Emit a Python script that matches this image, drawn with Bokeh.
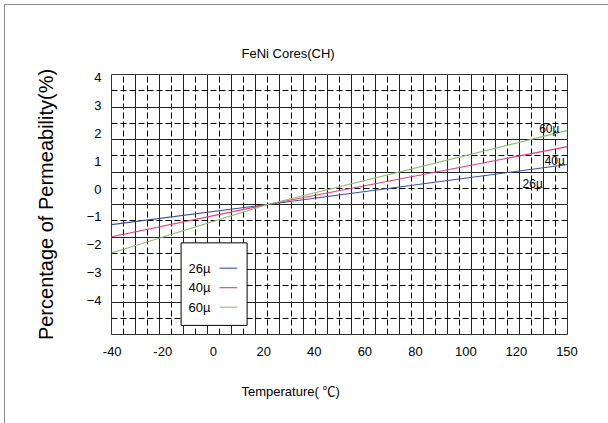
from bokeh.plotting import figure
from bokeh.models import Range1d, LinearAxis, FixedTicker, Grid, Title, BoxAnnotation
from bokeh.core.properties import value
from bokeh.embed import file_html
from bokeh.resources import INLINE

# Permeability change vs. temperature for FeNi (CH) cores, referenced to 25 °C
temperature = [-40, 25, 150]
perm_26u = [-0.62, 0.0, 1.23]
perm_40u = [-0.99, 0.0, 1.78]
perm_60u = [-1.49, 0.0, 2.28]
series = [("26µ", perm_26u, "#3b4ea6"),
          ("40µ", perm_40u, "#e63a78"),
          ("60µ", perm_60u, "#8fc06e")]

x_tick_values = [-40, -20, 0, 20, 40, 60, 80, 100, 120, 140]
x_tick_text = ["-40", "-20", "0", "20", "40", "60", "80", "100", "120", "150"]
y_tick_values = [4, 3, 2, 1, 0, -1, -2, -3, -4]

FONT = "Liberation Sans, Noto Sans CJK SC"

p = figure(frame_width=456, frame_height=260,
           min_border_left=106, min_border_right=41,
           min_border_top=69, min_border_bottom=89,
           x_range=Range1d(-40, 150), y_range=Range1d(-4, 4),
           x_axis_location=None, y_axis_location=None,
           output_backend="svg", toolbar_location=None,
           title="FeNi Cores(CH)")
p.margin = (4, 0, 0, 4)
p.styles = {"border-left": "1px solid #8a8a8a", "border-top": "1px solid #8a8a8a"}
p.outline_line_color = "#333333"
p.background_fill_color = "white"
p.border_fill_color = "white"

# grid: solid every 10 °C / 1 %, dashed in between
def add_grid(dim, ticks, dash):
    g = Grid(dimension=dim, ticker=FixedTicker(ticks=ticks),
             grid_line_color="#222222" if dash == "solid" else "#000000",
             grid_line_width=1, grid_line_dash=dash)
    p.add_layout(g)

add_grid(0, list(range(-40, 151, 10)), "solid")
add_grid(0, list(range(-35, 150, 10)), "6 3")
add_grid(1, list(range(-4, 5)), "solid")
add_grid(1, [v + 0.5 for v in range(-4, 4)], "6 3")

# tick-label axes on their own label scales
p.extra_x_ranges = {"xlbl": Range1d(-40.28, 140.2)}
p.extra_y_ranges = {"ylbl": Range1d(-5.22, 4.108)}

xaxis = LinearAxis(x_range_name="xlbl", ticker=FixedTicker(ticks=x_tick_values),
                   major_label_overrides={v: t for v, t in zip(x_tick_values, x_tick_text)})
yaxis = LinearAxis(y_range_name="ylbl", ticker=FixedTicker(ticks=y_tick_values),
                   axis_label="Percentage of Permeability(%)")
for ax in (xaxis, yaxis):
    ax.axis_line_color = None
    ax.major_tick_line_color = None
    ax.minor_tick_line_color = None
    ax.major_tick_in = 0
    ax.major_tick_out = 0
    ax.minor_tick_in = 0
    ax.minor_tick_out = 0
    ax.major_label_text_font = FONT
    ax.major_label_text_font_size = "13px"
    ax.major_label_text_color = "#000000"
xaxis.major_label_standoff = 12
yaxis.major_label_standoff = 10
yaxis.axis_label_text_font = FONT
yaxis.axis_label_text_font_size = "20px"
yaxis.axis_label_text_font_style = "normal"
yaxis.axis_label_text_color = "#000000"
yaxis.axis_label_standoff = 27
p.add_layout(xaxis, "below")
p.add_layout(yaxis, "left")

# title and x-axis caption, left-aligned with an offset from the frame edge
p.title.align = "left"
p.title.offset = 130
p.title.text_font = FONT
p.title.text_font_size = "13px"
p.title.text_font_style = "normal"
p.title.text_color = "#000000"
p.title.standoff = 28

xlabel = Title(text="Temperature( ℃)", align="left", offset=130,
               text_font=FONT, text_font_size="13px", text_font_style="normal",
               text_color="#000000", standoff=46)
p.add_layout(xlabel, "below")

# curves
for name, vals, color in series:
    p.line(temperature, vals, line_color=color, line_width=1.1)

# end-of-curve labels
end_label_x = [135.5, 144.7, 142.4]
end_label_dy = [-0.47, -0.37, 0.17]
lx, ly, lt = [], [], []
for (name, vals, color), x, dy in zip(series, end_label_x, end_label_dy):
    slope = (vals[2] - vals[1]) / (temperature[2] - temperature[1])
    lx.append(x)
    ly.append(vals[1] + slope * (x - temperature[1]) + dy)
    lt.append(name)
p.text(x=lx, y=ly, text=lt, text_font=value(FONT), text_font_size="12px",
       text_align="center", text_baseline="middle", text_color="#000000")

# legend box with label followed by line sample
leg_left, leg_right, leg_top, leg_bottom = -11, 16.5, -1.18, -3.72
p.add_layout(BoxAnnotation(left=leg_left, right=leg_right, top=leg_top, bottom=leg_bottom,
                           fill_color="white", fill_alpha=1.0,
                           line_color="#000000", line_width=1, line_alpha=1.0))
row_y = [leg_top - 0.78 - 0.6 * i for i in range(len(series))]
p.text(x=[leg_left + 7.7] * len(series), y=row_y, text=[s[0] for s in series],
       text_font=value(FONT), text_font_size="13px", text_align="center",
       text_baseline="middle", text_color="#000000", level="overlay")
p.segment(x0=[leg_left + 16] * len(series), x1=[leg_left + 23.4] * len(series),
          y0=row_y, y1=row_y, line_color=[s[2] for s in series],
          line_width=1.1, level="overlay")

open("out.html", "w").write(file_html(p, INLINE))
